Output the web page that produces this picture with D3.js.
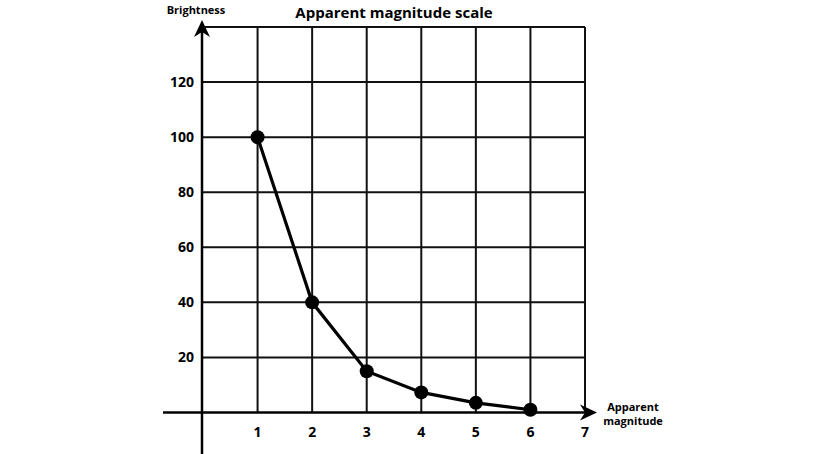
<!DOCTYPE html>
<html><head><meta charset="utf-8">
<script src="https://cdn.jsdelivr.net/npm/d3@7"></script>
<style>body{margin:0;background:#fff}svg{display:block}text{font-family:"Open Sans",sans-serif;font-weight:bold;fill:#000}</style>
</head><body>
<svg id="c" width="840" height="454"></svg>
<script>
const magnitudes = [1, 2, 3, 4, 5, 6];
const brightness = [100, 40, 15, 7.3, 3.5, 1];
const xTicks = [1, 2, 3, 4, 5, 6, 7];
const yTicks = [20, 40, 60, 80, 100, 120];
const gridX = [1, 2, 3, 4, 5, 6, 7];
const gridY = [20, 40, 60, 80, 100, 120, 140];

const svg = d3.select("#c");
const x = d3.scaleLinear().domain([0, 7]).range([203, 585]);
const y = d3.scaleLinear().domain([0, 140]).range([412.5, 27]);

// grid
svg.append("g").selectAll("line").data(gridX).join("line")
  .attr("x1", d => x(d)).attr("x2", d => x(d))
  .attr("y1", y(0)).attr("y2", y(140))
  .attr("stroke", "#111").attr("stroke-width", 2);
svg.append("g").selectAll("line").data(gridY).join("line")
  .attr("x1", x(0)).attr("x2", x(7))
  .attr("y1", d => y(d)).attr("y2", d => y(d))
  .attr("stroke", "#111").attr("stroke-width", 2);

// axes
const ax = x(0) - 1;
svg.append("line").attr("x1", 163).attr("x2", 590).attr("y1", y(0)).attr("y2", y(0))
  .attr("stroke", "#000").attr("stroke-width", 2.5);
svg.append("line").attr("x1", ax).attr("x2", ax).attr("y1", 454).attr("y2", 28)
  .attr("stroke", "#000").attr("stroke-width", 2.5);
// arrowheads
svg.append("path").attr("d", `M${ax},20 L${ax+8},37 L${ax},32 L${ax-8},37 Z`).attr("fill", "#000");
svg.append("path").attr("d", `M597,${y(0)} L580,${y(0)-8} L585,${y(0)} L580,${y(0)+8} Z`).attr("fill", "#000");

// tick labels
svg.append("g").selectAll("text").data(xTicks).join("text")
  .attr("x", d => x(d)).attr("y", 437).attr("text-anchor", "middle")
  .attr("font-size", 14).text(d => d);
svg.append("g").selectAll("text").data(yTicks).join("text")
  .attr("x", 194).attr("y", d => y(d) + 5).attr("text-anchor", "end")
  .attr("font-size", 14).text(d => d);

// line + points
const pts = magnitudes.map((m, i) => [m, brightness[i]]);
svg.append("path").datum(pts)
  .attr("d", d3.line().x(d => x(d[0])).y(d => y(d[1])))
  .attr("fill", "none").attr("stroke", "#000").attr("stroke-width", 3.2);
svg.append("g").selectAll("circle").data(pts).join("circle")
  .attr("cx", d => x(d[0])).attr("cy", d => y(d[1])).attr("r", 7).attr("fill", "#000");

// titles
svg.append("text").attr("x", 394).attr("y", 18).attr("text-anchor", "middle")
  .attr("font-size", 15).text("Apparent magnitude scale");
svg.append("text").attr("x", 196).attr("y", 14).attr("text-anchor", "middle")
  .attr("font-size", 11).text("Brightness");
const xl = svg.append("text").attr("x", 633).attr("y", 411).attr("text-anchor", "middle").attr("font-size", 11);
xl.append("tspan").attr("x", 633).text("Apparent");
xl.append("tspan").attr("x", 633).attr("dy", 14).text("magnitude");
</script>
</body></html>
